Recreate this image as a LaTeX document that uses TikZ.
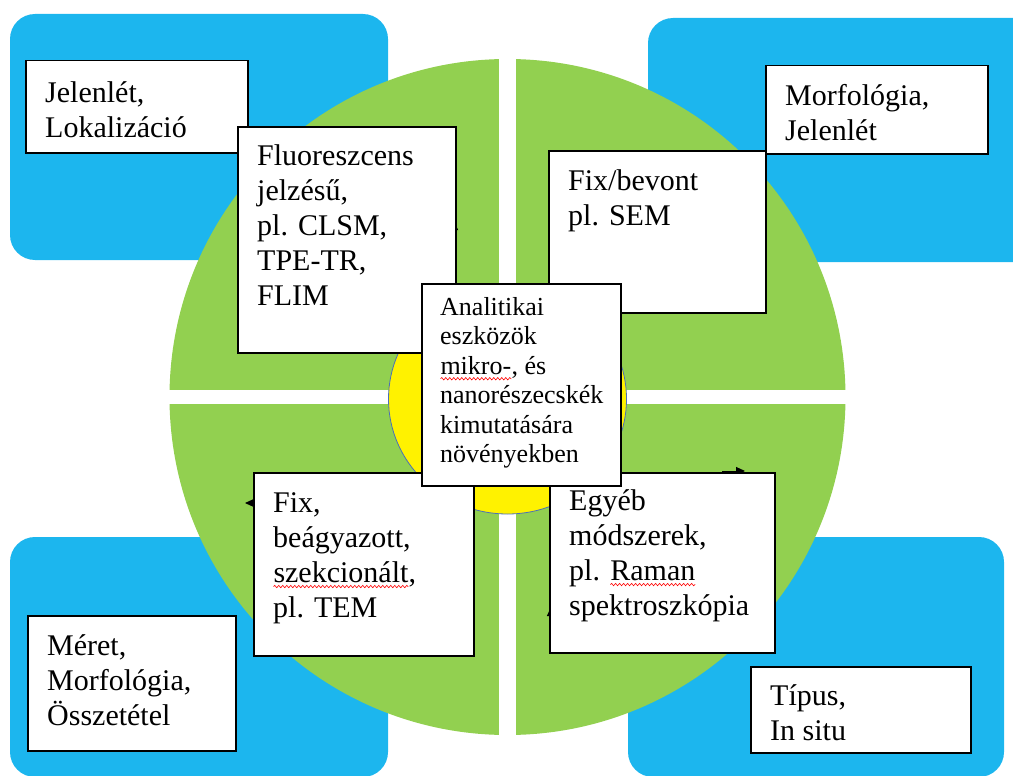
\documentclass[tikz,border=0pt]{standalone}
\usepackage{fontspec}
\setmainfont{Liberation Serif}
\usetikzlibrary{arrows.meta,decorations.pathmorphing}

\definecolor{kek}{HTML}{1CB6EE}
\definecolor{zold}{HTML}{92D050}
\definecolor{keret}{HTML}{4A6FB8}
\newcommand{\hibas}[1]{\tikz[baseline=(w.base)]{%
    \node[inner sep=0pt, outer sep=0pt, anchor=base, draw=none, fill=none] (w) {#1};
    \draw[red, line width=0.6pt, decorate, decoration={snake, amplitude=1.2pt, segment length=4pt}]
      ([yshift=-4.5pt]w.base west) -- ([yshift=-4.5pt]w.base east);}}

\begin{document}
\begin{tikzpicture}[x=1pt, y=-1pt,
    doboz/.style={draw=black, line width=1.5pt, fill=white, inner sep=0pt, anchor=north west},
    szoveg/.style={anchor=north west, align=left, inner sep=0pt, font=\fontsize{30}{35}\selectfont},
    kisszoveg/.style={szoveg, font=\fontsize{26}{29.5}\selectfont},
    nyil/.style={-{Triangle[width=8pt,length=9pt]}, line width=1pt}]
  \useasboundingbox (0,0) rectangle (1013,776);

  % Hintergrund
  \begin{scope}[rounded corners=25]
    \fill[kek] (10,14) rectangle (388,260);
    \fill[kek] (648,18) rectangle (1040,262);
    \fill[kek] (10,537) rectangle (388,777);
    \fill[kek] (628,537) rectangle (1004,777);
  \end{scope}

  \fill[zold] (507.5,397) circle[radius=338];
  \fill[white] (499,40) rectangle (516,760);
  \fill[white] (150,390) rectangle (870,404);
  \filldraw[fill=yellow, draw=keret, line width=0.8pt] (507.5,399) ellipse[x radius=119, y radius=115];

  % Pfeile (verdeckt)
  \coordinate (p1a) at (454,250);  \coordinate (p1b) at (454,221);
  \coordinate (p2a) at (262,503);  \coordinate (p2b) at (245,503);
  \coordinate (p3a) at (722,471);  \coordinate (p3b) at (745,471);
  \coordinate (p4a) at (551,632);  \coordinate (p4b) at (551,607);
  \draw[nyil] (p1a) -- (p1b);
  \draw[nyil] (p2a) -- (p2b);
  \draw[nyil] (p3a) -- (p3b);
  \draw[nyil] (p4a) -- (p4b);

  % Kaesten
  \node[doboz, minimum width=222, minimum height=92] (jelen) at (25,60) {};
  \node[szoveg] (jelentxt) at ([shift={(20,21)}]jelen.north west) {Jelenlét,\\Lokalizáció};

  \node[doboz, minimum width=218, minimum height=226] (fluo) at (237,126) {};
  \node[szoveg] (fluotxt) at ([shift={(20,18)}]fluo.north west)
    {Fluoreszcens\\jelzésű,\\pl. CLSM,\\TPE-TR,\\FLIM};

  \node[doboz, minimum width=222, minimum height=88] (morf) at (765,65) {};
  \node[szoveg] (morftxt) at ([shift={(20,19)}]morf.north west) {Morfológia,\\Jelenlét};

  \node[doboz, minimum width=217, minimum height=162] (sem) at (548,150) {};
  \node[szoveg] (semtxt) at ([shift={(20,19)}]sem.north west) {Fix/bevont\\pl. SEM};

  \node[doboz, minimum width=220, minimum height=183] (tem) at (253,472) {};
  \node[szoveg] (temtxt) at ([shift={(20,20)}]tem.north west)
    {Fix,\\beágyazott,\\\hibas{szekcionált},\\pl. TEM};

  \node[doboz, minimum width=225, minimum height=180] (egyeb) at (549,472) {};
  \node[szoveg] (egyebtxt) at ([shift={(20,17)}]egyeb.north west)
    {Egyéb\\módszerek,\\pl. \hibas{Raman}\\spektroszkópia};

  \node[doboz, minimum width=208, minimum height=135] (meret) at (27,615) {};
  \node[szoveg] (merettxt) at ([shift={(20,19)}]meret.north west)
    {Méret,\\Morfológia,\\Összetétel};

  \node[doboz, minimum width=220, minimum height=86] (tipus) at (750,666) {};
  \node[szoveg] (tipustxt) at ([shift={(20,18)}]tipus.north west) {Típus,\\In situ};

  % Mitte
  \node[doboz, minimum width=199, minimum height=202] (kozep) at (421,283) {};
  \node[kisszoveg] (kozeptxt) at ([shift={(19,14)}]kozep.north west)
    {Analitikai\\eszközök\\\hibas{mikro-}, és\\nanorészecskék\\kimutatására\\növényekben};
\end{tikzpicture}
\end{document}
